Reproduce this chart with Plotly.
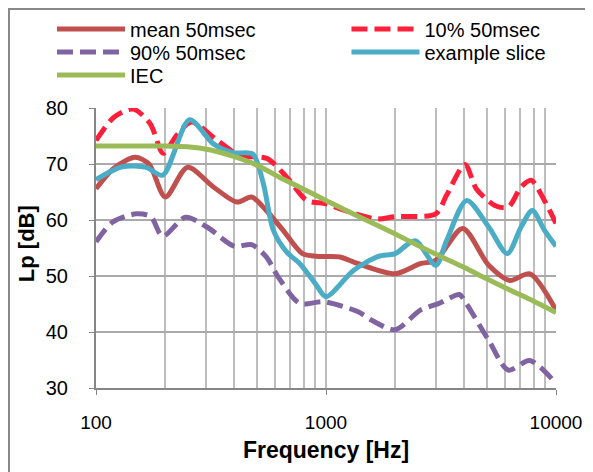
import plotly.graph_objects as go

# ---- data ----
mean_f = [100, 120, 148, 170, 200, 250, 324, 410, 475, 550, 650, 790, 940, 1150, 1380, 2000, 2570, 3000, 3930, 5100, 6300, 7700, 10000]
mean_v = [65.6, 69.3, 71.2, 70.0, 64.1, 69.4, 65.9, 63.2, 64.1, 61.7, 58.2, 54.0, 53.5, 53.4, 52.2, 50.4, 52.2, 52.8, 58.5, 51.9, 49.2, 50.4, 43.9]

p10_f = [100, 120, 145, 172, 196, 224, 260, 330, 423, 552, 674, 824, 1000, 1150, 1650, 2000, 3000, 3350, 4020, 4500, 5420, 6200, 7050, 7800, 8900, 10000]
p10_v = [74.2, 78.4, 79.8, 77.2, 71.9, 75.1, 77.5, 74.5, 71.5, 71.0, 67.7, 63.5, 62.9, 62.0, 60.2, 60.6, 61.1, 64.5, 69.9, 65.6, 62.6, 62.3, 65.9, 67.1, 63.5, 59.4]

p90_f = [100, 118, 150, 173, 195, 245, 305, 400, 475, 550, 620, 770, 980, 1380, 1580, 2000, 2570, 3100, 3800, 4000, 5100, 6200, 7700, 10000]
p90_v = [56.1, 59.6, 61.1, 60.6, 57.1, 60.5, 58.7, 55.3, 55.6, 53.4, 49.8, 45.1, 45.4, 43.6, 42.1, 40.4, 43.9, 45.1, 46.7, 45.6, 38.5, 33.2, 34.9, 30.8]

ex_f = [100, 130, 165, 195, 255, 324, 395, 480, 534, 590, 674, 770, 900, 1000, 1316, 1690, 2000, 2440, 3000, 3350, 4090, 5100, 6140, 7050, 7890, 8900, 10000]
ex_v = [67.2, 69.5, 69.4, 68.0, 77.9, 73.6, 72.0, 71.8, 66.5, 58.2, 54.3, 52.2, 48.6, 46.3, 51.0, 53.5, 54.0, 56.3, 51.9, 56.4, 63.5, 58.75, 54.0, 58.75, 61.7, 58.2, 55.3]

iec_f = [100, 200, 250, 315, 400, 500, 630, 800, 1000, 1250, 1600, 2000, 2500, 3150, 4000, 5000, 6300, 8000, 10000]
iec_v = [73.2, 73.2, 73.1, 72.5, 71.3, 69.8, 67.6, 65.5, 63.5, 61.5, 59.4, 57.5, 55.5, 53.5, 51.5, 49.5, 47.5, 45.5, 43.5]

y_ticks = [30, 40, 50, 60, 70, 80]
x_major = [100, 1000, 10000]
x_minor = [200, 300, 400, 500, 600, 700, 800, 900, 2000, 3000, 4000, 5000, 6000, 7000, 8000, 9000]

FONT = "Liberation Sans, Arial, sans-serif"
DASH = "16px,7px"

fig = go.Figure()

def add(f, v, name, color, legend, dash="solid"):
    fig.add_trace(go.Scatter(
        x=f, y=v, name=name, mode="lines", legend=legend,
        line=dict(color=color, width=5, shape="spline", smoothing=0.8, dash=dash),
    ))

add(mean_f, mean_v, "mean 50msec", "#C0504D", "legend2")
add(p10_f, p10_v, "10% 50msec", "#FF1F3A", "legend3", DASH)
add(p90_f, p90_v, "90% 50msec", "#8064A2", "legend4", DASH)
add(ex_f, ex_v, "example slice", "#4BACC6", "legend5")
add(iec_f, iec_v, "IEC", "#9BBB59", "legend6")

def leg(x, y):
    return dict(
        x=x, y=y, xref="container", yref="container",
        orientation="v", xanchor="left", yanchor="middle",
        font=dict(family=FONT, size=20, color="black"),
        bgcolor="rgba(0,0,0,0)", itemwidth=68, borderwidth=0,
    )

col1, col2 = 0.0742, 0.5708
row1, row2, row3 = 0.9555, 0.9068, 0.8581

fig.update_layout(
    width=593, height=472,
    margin=dict(l=88, r=45, t=100, b=92, autoexpand=False),
    paper_bgcolor="white", plot_bgcolor="white",
    font=dict(family=FONT, size=19, color="black"),
    showlegend=True,
    legend2=leg(col1, row1),
    legend3=leg(col2, row1),
    legend4=leg(col1, row2),
    legend5=leg(col2, row2),
    legend6=leg(col1, row3),
    shapes=[dict(type="rect", xref="paper", yref="paper",
                 x0=-0.1891, x1=1.3, y0=-0.6, y1=1.3536,
                 line=dict(color="#888888", width=2), layer="below")],
    annotations=[dict(text="Lp [dB]", textangle=-90, xref="paper", yref="paper",
                      x=-0.152, y=0.514, xanchor="center", yanchor="middle",
                      showarrow=False,
                      font=dict(family=FONT, size=22, weight="bold", color="black"))],
)

fig.update_xaxes(
    type="log", range=[2, 4], automargin=False,
    tickvals=x_major, ticktext=[str(v) for v in x_major],
    tickfont=dict(family=FONT, size=19),
    ticks="outside", ticklen=5, tickcolor="#868686",
    ticklabelstandoff=11,
    showline=True, linecolor="#868686", linewidth=2,
    showgrid=True, gridcolor="#BDBDBD", gridwidth=1.5,
    minor=dict(tickvals=x_minor, showgrid=True, gridcolor="#BDBDBD", gridwidth=1.5, ticks=""),
    title=dict(text="Frequency [Hz]", font=dict(family=FONT, size=23, weight="bold"), standoff=10),
    zeroline=False,
)
fig.update_yaxes(
    range=[30, 80], automargin=False,
    tickvals=y_ticks,
    tickfont=dict(family=FONT, size=20),
    ticks="outside", ticklen=5, tickcolor="#868686",
    ticklabelstandoff=17,
    showline=True, linecolor="#868686", linewidth=2,
    showgrid=True, gridcolor="#AAAAAA", gridwidth=1.5,
    zeroline=False,
)

fig.write_html("out.html")
